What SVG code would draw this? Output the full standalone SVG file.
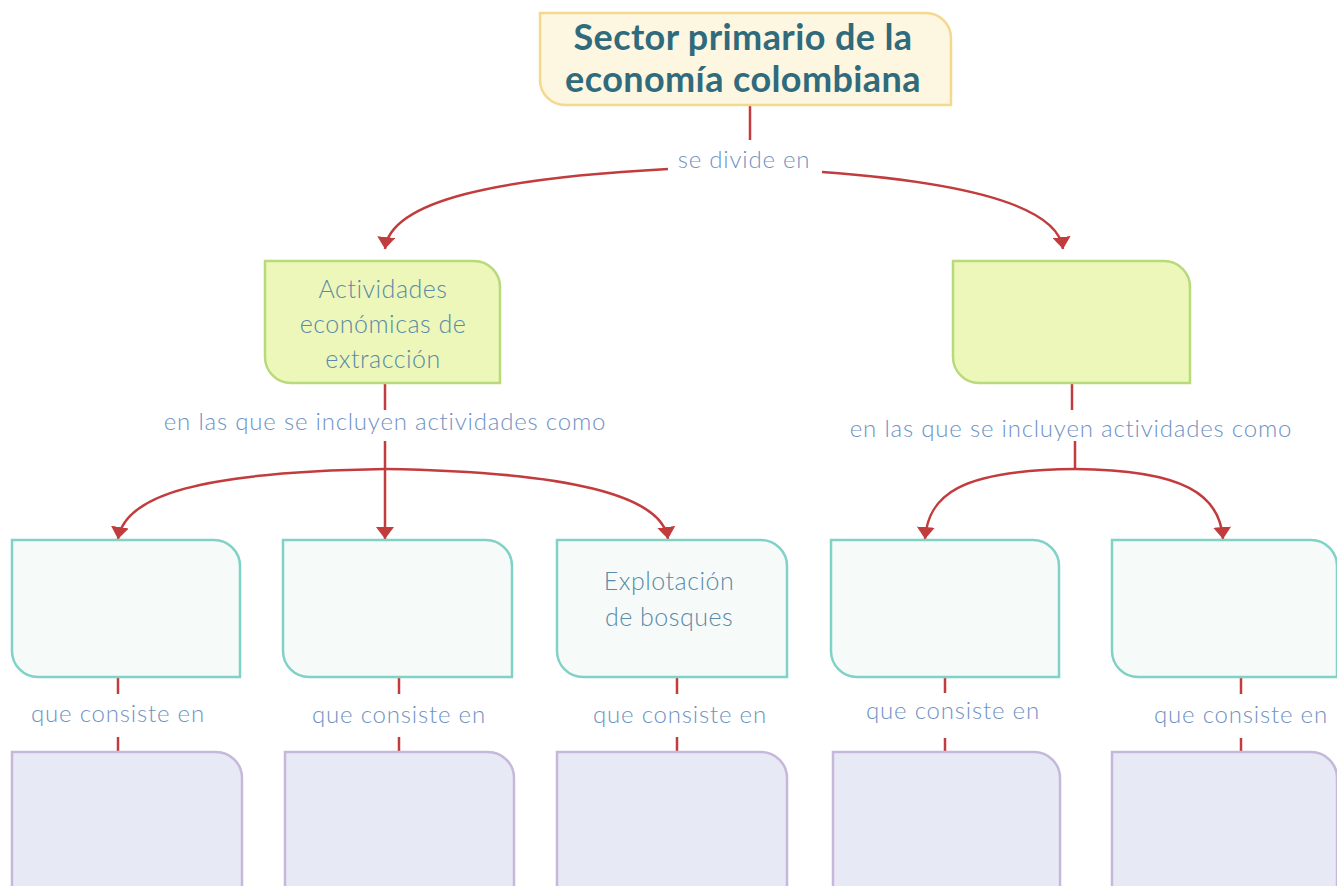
<svg xmlns="http://www.w3.org/2000/svg" width="1337" height="886" viewBox="0 0 1337 886">
<defs>
<marker id="ah" viewBox="0 0 12 18" refX="12" refY="9" markerWidth="12" markerHeight="18" markerUnits="userSpaceOnUse" orient="auto">
<polygon points="0,0 12,9 0,18" fill="#c23b3d"/>
</marker>
<style>
.title{font-family:"Lato","Noto Sans",sans-serif;font-weight:700;font-size:36px;letter-spacing:0.4px;fill:#2f6b7c;text-anchor:middle}
.lbl{font-family:"Lato","Noto Sans",sans-serif;font-weight:300;font-size:24px;letter-spacing:0.8px;fill:#6e92c4;text-anchor:middle}
.ntx{font-family:"Lato","Noto Sans",sans-serif;font-weight:300;font-size:25px;letter-spacing:0.5px;fill:#5a8aa8;text-anchor:middle}
.con{fill:none;stroke:#c23b3d;stroke-width:2.5}
.arr{fill:none;stroke:#c23b3d;stroke-width:2.5;marker-end:url(#ah)}
.top{fill:#fdf6e0;stroke:#f3d98e;stroke-width:2.5}
.grn{fill:#edf7b9;stroke:#b9d97d;stroke-width:2.5}
.teal{fill:#f6fbfa;stroke:#80d1c6;stroke-width:2.5}
.pur{fill:#e7eaf4;stroke:#c5b8da;stroke-width:2.5}
</style>
</defs>
<rect width="1337" height="886" fill="#ffffff"/>
<g id="connectors">
<line class="con" x1="750" y1="106" x2="750" y2="140"/>
<path class="arr" d="M 668 169 C 500 178 390 200 385 249"/>
<path class="arr" d="M 822 172 C 960 182 1058 205 1063 249"/>
<line class="con" x1="385" y1="383" x2="385" y2="410"/>
<line class="arr" x1="385" y1="441" x2="385" y2="539"/>
<path class="arr" d="M 385 469 C 200 472 125 495 118 539"/>
<path class="arr" d="M 385 469 C 570 472 662 495 668 539"/>
<line class="con" x1="1072" y1="383" x2="1072" y2="410"/>
<line class="con" x1="1075" y1="441" x2="1075" y2="470"/>
<path class="arr" d="M 1075 469 C 960 470 928 495 925 539"/>
<path class="arr" d="M 1075 469 C 1185 470 1220 495 1223 539"/>
<line class="con" x1="118" y1="677" x2="118" y2="694"/>
<line class="con" x1="118" y1="737" x2="118" y2="752"/>
<line class="con" x1="399" y1="677" x2="399" y2="694"/>
<line class="con" x1="399" y1="737" x2="399" y2="752"/>
<line class="con" x1="677" y1="677" x2="677" y2="694"/>
<line class="con" x1="677" y1="737" x2="677" y2="752"/>
<line class="con" x1="945" y1="677" x2="945" y2="693"/>
<line class="con" x1="945" y1="738" x2="945" y2="752"/>
<line class="con" x1="1241" y1="677" x2="1241" y2="694"/>
<line class="con" x1="1241" y1="738" x2="1241" y2="752"/>
<text class="lbl" x="744" y="168">se divide en</text>
<text class="lbl" x="385" y="430">en las que se incluyen actividades como</text>
<text class="lbl" x="1071" y="437">en las que se incluyen actividades como</text>
<text class="lbl" x="118" y="722">que consiste en</text>
<text class="lbl" x="399" y="723">que consiste en</text>
<text class="lbl" x="680" y="723">que consiste en</text>
<text class="lbl" x="953" y="719">que consiste en</text>
<text class="lbl" x="1241" y="723">que consiste en</text>
</g>
<g id="n-sector">
<path class="top" d="M 540 13 H 926 A 25 25 0 0 1 951 38 V 105 H 565 A 25 25 0 0 1 540 80 Z"/>
<text class="title" x="743" y="50">Sector primario de la</text>
<text class="title" x="743" y="92">economía colombiana</text>
</g>
<g id="n-extraccion">
<path class="grn" d="M 265 261 H 474 A 26 26 0 0 1 500 287 V 383 H 291 A 26 26 0 0 1 265 357 Z"/>
<text class="ntx" x="383" y="298">Actividades</text>
<text class="ntx" x="383" y="333">económicas de</text>
<text class="ntx" x="383" y="368">extracción</text>
</g>
<g id="n-green2">
<path class="grn" d="M 953 261 H 1164 A 26 26 0 0 1 1190 287 V 383 H 979 A 26 26 0 0 1 953 357 Z"/>
</g>
<g id="n-t1"><path class="teal" d="M 12 540 H 214 A 26 26 0 0 1 240 566 V 677 H 38 A 26 26 0 0 1 12 651 Z"/></g>
<g id="n-t2"><path class="teal" d="M 283 540 H 486 A 26 26 0 0 1 512 566 V 677 H 309 A 26 26 0 0 1 283 651 Z"/></g>
<g id="n-t3">
<path class="teal" d="M 557 540 H 761 A 26 26 0 0 1 787 566 V 677 H 583 A 26 26 0 0 1 557 651 Z"/>
<text class="ntx" x="669" y="590">Explotación</text>
<text class="ntx" x="669" y="626">de bosques</text>
</g>
<g id="n-t4"><path class="teal" d="M 831 540 H 1033 A 26 26 0 0 1 1059 566 V 677 H 857 A 26 26 0 0 1 831 651 Z"/></g>
<g id="n-t5"><path class="teal" d="M 1112 540 H 1311 A 26 26 0 0 1 1337 566 V 677 H 1138 A 26 26 0 0 1 1112 651 Z"/></g>
<g id="n-p1"><path class="pur" d="M 12 752 H 216 A 26 26 0 0 1 242 778 V 900 H 12 Z"/></g>
<g id="n-p2"><path class="pur" d="M 285 752 H 488 A 26 26 0 0 1 514 778 V 900 H 285 Z"/></g>
<g id="n-p3"><path class="pur" d="M 557 752 H 761 A 26 26 0 0 1 787 778 V 900 H 557 Z"/></g>
<g id="n-p4"><path class="pur" d="M 833 752 H 1034 A 26 26 0 0 1 1060 778 V 900 H 833 Z"/></g>
<g id="n-p5"><path class="pur" d="M 1112 752 H 1311 A 26 26 0 0 1 1337 778 V 900 H 1112 Z"/></g>
</svg>
